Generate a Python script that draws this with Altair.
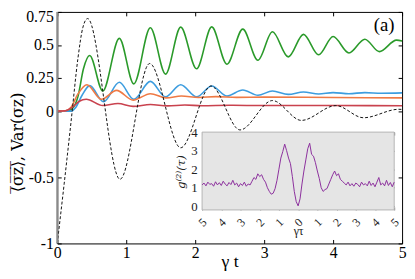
import altair as alt
import pandas as pd

# ---------------- main panel data ----------------
t_green = [0, 0.15, 0.22, 0.30, 0.38, 0.47, 0.66, 0.90, 1.11, 1.35, 1.57, 1.79, 2.02, 2.24, 2.46,
           2.69, 2.91, 3.12, 3.35, 3.57, 3.79, 4.00, 4.23, 4.46, 4.67, 4.92, 5.00]
v_green = [0, 0.002, 0.02, 0.11, 0.32, 0.42, 0.152, 0.55, 0.206, 0.63, 0.28, 0.635, 0.32, 0.637, 0.355,
           0.62, 0.385, 0.60, 0.41, 0.58, 0.426, 0.564, 0.44, 0.544, 0.45, 0.537, 0.53]

t_blue = [0, 0.20, 0.27, 0.36, 0.47, 0.67, 0.90, 1.11, 1.35, 1.57, 1.79, 2.02, 2.24, 2.46, 2.69,
          2.91, 3.12, 3.35, 3.57, 3.79, 4.00, 4.23, 4.46, 4.70, 5.00]
v_blue = [0, 0.0, 0.03, 0.12, 0.193, 0.071, 0.218, 0.09, 0.225, 0.108, 0.20, 0.108, 0.19, 0.115, 0.16,
          0.12, 0.152, 0.127, 0.145, 0.13, 0.14, 0.132, 0.14, 0.135, 0.138]

t_orange = [0, 0.12, 0.20, 0.30, 0.43, 0.64, 0.86, 1.10, 1.35, 1.58, 1.80, 2.05, 2.30, 2.60, 3.00, 4.00, 5.00]
v_orange = [0, 0.003, 0.03, 0.13, 0.20, 0.09, 0.157, 0.083, 0.132, 0.10, 0.115, 0.103, 0.11, 0.104, 0.106, 0.103, 0.10]

t_red = [0, 0.12, 0.22, 0.32, 0.42, 0.66, 0.88, 1.10, 1.35, 1.60, 1.85, 2.10, 2.50, 3.00, 4.00, 5.00]
v_red = [0, 0.003, 0.03, 0.075, 0.09, 0.042, 0.058, 0.036, 0.05, 0.04, 0.046, 0.041, 0.044, 0.042, 0.042, 0.041]

t_dash = [0, 0.10, 0.20, 0.30, 0.37, 0.44, 0.91, 1.34, 1.79, 2.23, 2.65, 3.12, 3.54, 4.04, 4.44, 4.95, 5.00]
v_dash = [-1.0, -0.55, -0.08, 0.40, 0.63, 0.70, -0.515, 0.36, -0.277, 0.19, -0.142, 0.08, -0.07, 0.042, -0.05, 0.014, 0.013]

series_names = ["green", "blue", "orange", "red"]
series_colors = ["#2a9a2a", "#3d9ddf", "#ef7a45", "#c9424e"]

x_ticks = [0, 1, 2, 3, 4, 5]
y_ticks = [-1, -0.5, 0, 0.25, 0.5, 0.75]

# ---------------- inset data ----------------
tau = [round(-5 + 0.1 * i, 1) for i in range(101)]
g2 = [1.15, 1.25, 1.10, 1.30, 1.18, 1.22, 1.08, 1.32, 1.15, 1.27,
      1.12, 1.35, 1.20, 1.10, 1.28, 1.17, 1.40, 1.15, 1.25, 1.05,
      1.22, 1.12, 1.30, 1.08, 1.20, 1.15, 1.35, 1.55, 1.45, 1.75,
      1.60, 1.70, 1.45, 1.30, 1.00, 0.80, 0.65, 0.70, 0.95, 1.40,
      2.00, 2.60, 2.95, 3.35, 3.00, 2.60, 2.30, 1.60, 0.80, 0.25,
      0.02, 0.40, 1.20, 1.90, 2.50, 3.10, 3.40, 2.80, 2.70, 2.35,
      1.90, 1.50, 1.00, 0.80, 0.90, 0.95, 1.20, 1.45, 1.70, 1.90,
      1.65, 1.75, 1.45, 1.35, 1.25, 1.15, 1.30, 1.10, 1.22, 1.08,
      1.25, 1.18, 1.05, 1.30, 1.15, 1.22, 1.10, 1.35, 1.12, 1.25,
      1.05, 1.30, 1.55, 1.15, 1.25, 1.10, 1.40, 1.12, 1.28, 1.05, 1.30]
tau_ticks = [-5, -4, -3, -2, -1, 0, 1, 2, 3, 4, 5]
g_ticks = [0, 1, 2, 3, 4]

# ---------------- tables ----------------
rows = []
for name, ts, vs in [("green", t_green, v_green), ("blue", t_blue, v_blue),
                     ("orange", t_orange, v_orange), ("red", t_red, v_red)]:
    for a, b in zip(ts, vs):
        rows.append({"t": a, "v": b, "s": name})
df_lines = pd.DataFrame(rows)
df_dash = pd.DataFrame({"t": t_dash, "v": v_dash})
df_inset = pd.DataFrame({"tau": tau, "g": g2})
df_box = pd.DataFrame({"x1": [-5], "x2": [5], "y1": [-0.2], "y2": [4]})
df_lab = pd.DataFrame({"t": [4.74], "v": [0.647], "txt": ["(a)"]})
df_rule = pd.DataFrame({"t": [0]})

W, H = 350, 235
FONT = "Liberation Serif"
FONT2 = "DejaVu Serif"
xs_main = alt.Scale(domain=[0, 5], nice=False, zero=False)
ys_main = alt.Scale(domain=[-1, 0.75], nice=False, zero=False)
xs_in = alt.Scale(domain=[-5, 5], nice=False, zero=False, range=[147, 342])
ys_in = alt.Scale(domain=[-0.2, 4], nice=False, zero=False, range=[201, 122])

ytitle = "\u27e8\u0305\u03c3\u0305z\u0305\u27e9\u0305, Var(\u03c3z)"

lines = alt.Chart(df_lines).mark_line(interpolate="monotone", strokeWidth=1.6).encode(
    x=alt.X("t:Q", scale=xs_main, axis=alt.Axis(
        orient="bottom", values=x_ticks, offset=-4, tickSize=4, domain=False, grid=False,
        labelPadding=1, labelFlush=False, labelExpr="toString(datum.value)", labelFontSize=16,
        labelFont=FONT, labelColor="black", tickColor="black", title="\u03b3 t", titleFontSize=18,
        titleFont=FONT, titleFontWeight="normal", titleBaseline="alphabetic", titleY=27,
        titleColor="black")),
    y=alt.Y("v:Q", scale=ys_main, axis=alt.Axis(
        orient="left", values=y_ticks, offset=-4, tickSize=4, domain=False, grid=False,
        labelPadding=4, labelFlush=False, labelExpr="toString(datum.value)", labelFontSize=16,
        labelFont=FONT,
        labelOffset=alt.condition("datum.value == 0.75", alt.value(5), alt.value(0)),
        labelColor="black", tickColor="black", title=ytitle, titleFontSize=16,
        titleFont=FONT2, titleFontWeight="normal", titleAngle=270, titleX=-44, titleY=132,
        titleAlign="center", titleBaseline="middle", titleColor="black")),
    color=alt.Color("s:N", scale=alt.Scale(domain=series_names, range=series_colors), legend=None),
)

dash = alt.Chart(df_dash).mark_line(interpolate="monotone", strokeWidth=1, color="#111111",
                                    strokeDash=[3, 2]).encode(
    x=alt.X("t:Q", scale=xs_main, axis=alt.Axis(
        orient="top", values=x_ticks, offset=-4, tickSize=4, domain=False, grid=False,
        labels=False, tickColor="black", title=None)),
    y=alt.Y("v:Q", scale=ys_main, axis=alt.Axis(
        orient="right", values=y_ticks, offset=-4, tickSize=4, domain=False, grid=False,
        labels=False, tickColor="black", title=None)),
)

rule = alt.Chart(df_rule).mark_rule(color="#8a8a8a", strokeWidth=2).encode(
    x=alt.X("t:Q", scale=xs_main, axis=None),
)

box = alt.Chart(df_box).mark_rect(fill="#e5e5e5", stroke="#b4b4b4", strokeWidth=1).encode(
    x=alt.X("x1:Q", scale=xs_in, axis=alt.Axis(
        orient="bottom", values=tau_ticks, offset=-37, tickSize=3, domain=False, grid=False,
        labelPadding=12, labelFlush=False, labelExpr="toString(abs(datum.value))",
        labelAngle=315, labelAlign="center", labelBaseline="middle", labelFontSize=12,
        labelFont=FONT, labelColor="#222222", tickColor="#707070", title="\u03b3\u03c4",
        titleFontSize=12, titleFont=FONT, titleFontWeight="normal", titleBaseline="middle",
        titleY=24, titleColor="#222222")),
    x2="x2:Q",
    y=alt.Y("y1:Q", scale=ys_in, axis=alt.Axis(
        orient="left", values=g_ticks, offset=-150, tickSize=3, domain=False, grid=False,
        labelPadding=5, labelFlush=False, labelFontSize=13, labelFont=FONT,
        labelColor="#222222", tickColor="#707070", title="g\u207d\u00b2\u207e(\u03c4)",
        titleFontSize=12, titleFont=FONT2, titleFontWeight="normal", titleFontStyle="italic",
        titleAngle=270, titleX=-25, titleY=162, titleAlign="center", titleBaseline="middle",
        titleColor="#222222")),
    y2="y2:Q",
)

inset = alt.Chart(df_inset).mark_line(strokeWidth=1, color="#8b2f9c").encode(
    x=alt.X("tau:Q", scale=xs_in, axis=alt.Axis(
        orient="top", values=tau_ticks, offset=-125, tickSize=3, domain=False, grid=False,
        labels=False, tickColor="#707070", title=None)),
    y=alt.Y("g:Q", scale=ys_in, axis=alt.Axis(
        orient="right", values=g_ticks, offset=-11, tickSize=3, domain=False, grid=False,
        labels=False, tickColor="#707070", title=None)),
)

label = alt.Chart(df_lab).mark_text(fontSize=19, font=FONT, align="center",
                                    baseline="middle", color="black").encode(
    x=alt.X("t:Q", scale=xs_main, axis=None),
    y=alt.Y("v:Q", scale=ys_main, axis=None),
    text="txt:N",
)

chart = alt.layer(lines, dash, rule, box, inset, label).resolve_scale(
    x="independent", y="independent"
).properties(
    width=W, height=H, autosize="none",
    padding={"left": 50, "top": 2, "right": 5, "bottom": 26},
).configure(font=FONT).configure_view(stroke="black", strokeWidth=1)

chart.save("out.html", embed_options={"renderer": "svg", "actions": False})
